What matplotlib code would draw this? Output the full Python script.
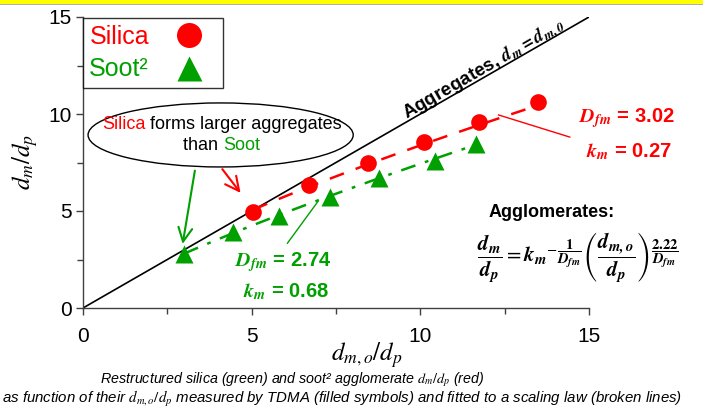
import numpy as np
import matplotlib
matplotlib.use("Agg")
import matplotlib.pyplot as plt
from matplotlib.lines import Line2D
from matplotlib.patches import Ellipse, Rectangle
from matplotlib.offsetbox import TextArea, HPacker, VPacker, AnnotationBbox

plt.rcParams["font.family"] = ["Liberation Sans", "DejaVu Sans"]
plt.rcParams["mathtext.fontset"] = "stix"

# measured points (TDMA)
silica_x = [5.05, 6.70, 8.44, 10.12, 11.75, 13.48]
silica_y = [4.96, 6.34, 7.46, 8.57, 9.59, 10.62]
soot_x = [3.0, 4.46, 5.80, 7.32, 8.78, 10.42, 11.64]
soot_y = [2.8, 3.93, 4.74, 5.74, 6.70, 7.59, 8.45]

# scaling law parameters shown on the chart
silica_Dfm, silica_km = 3.02, 0.27
soot_Dfm, soot_km = 2.74, 0.68
EXP_NUM = 2.22

RED = "#ff0000"
GREEN = "#00a000"


def scaling_law(x, km, Dfm):
    return km ** (-1.0 / Dfm) * x ** (EXP_NUM / Dfm)


fig = plt.figure(figsize=(7.03, 4.09), dpi=100)
ax = fig.add_axes([83 / 703, 1 - 308 / 409, 506 / 703, 291 / 409])

# yellow band on top
fig.patches.append(Rectangle((0, 1 - 3.5 / 409), 1, 3.5 / 409, transform=fig.transFigure,
                             facecolor="#ffff00", edgecolor="none"))
fig.patches.append(Rectangle((0, 1 - 5 / 409), 1, 1.5 / 409, transform=fig.transFigure,
                             facecolor="#b0b0b0", edgecolor="none"))

# aggregates line dm = dm,0
ax.plot([0, 15], [0, 15], color="black", lw=1.2, zorder=2)

xs = np.linspace(silica_x[0], silica_x[-1], 100)
ax.plot(xs, scaling_law(xs, silica_km, silica_Dfm), color=RED, lw=1.8,
        dashes=(6, 5), zorder=3)
xg = np.linspace(soot_x[0], soot_x[-1], 100)
ax.plot(xg, scaling_law(xg, soot_km, soot_Dfm), color=GREEN, lw=1.8,
        dashes=(6, 4, 1.5, 4), zorder=3)

ax.plot(silica_x, silica_y, "o", color=RED, ms=12, mec="none", zorder=4)
ax.plot(soot_x, soot_y, "^", color=GREEN, ms=13, mec="none", zorder=4)

ax.set_xlim(0, 15)
ax.set_ylim(0, 15)
ax.set_xticks([0, 5, 10, 15])
ax.set_yticks([0, 5, 10, 15])
ax.set_xticks([2.5, 7.5, 12.5], minor=True)
ax.set_yticks([2.5, 7.5, 12.5], minor=True)
ax.spines["top"].set_visible(False)
ax.spines["right"].set_visible(False)
for s in ["left", "bottom"]:
    ax.spines[s].set_linewidth(1.0)
    ax.spines[s].set_color("#404040")
ax.tick_params(which="major", length=5, width=1, color="#404040", labelsize=15)
ax.tick_params(which="minor", length=4, width=1, color="#404040")
ax.tick_params(axis="x", which="major", pad=9)
ax.tick_params(axis="y", which="major", pad=3)

ax.set_ylabel(r"$d_m/d_p$", fontsize=18, labelpad=6)
fig.text(367 / 703, 1 - 355 / 409, r"$d_{m,o}/d_p$", fontsize=18, ha="center", va="center")

# legend
handles = [Line2D([], [], ls="none", marker="o", color=RED, ms=18, mec="none"),
           Line2D([], [], ls="none", marker="^", color=GREEN, ms=18, mec="none")]
leg = ax.legend(handles, ["Silica", "Soot²"], loc="upper left", bbox_to_anchor=(0.0, 0.995),
                markerfirst=False, fontsize=18, frameon=True, fancybox=False,
                borderaxespad=0.0, handletextpad=0.5, handlelength=2.2,
                labelspacing=0.35, borderpad=0.25)
leg.get_frame().set_edgecolor("black")
leg.get_frame().set_linewidth(1.0)
leg.get_texts()[0].set_color(RED)
leg.get_texts()[1].set_color(GREEN)

# aggregates label along line
ax.text(11.9, 12.3, r"Aggregates, $\mathbfit{d_m = d_{m,0}}$", rotation=30,
        rotation_mode="anchor", ha="center", va="center", fontsize=13.5,
        fontweight="bold")

# ellipse note
ax.add_patch(Ellipse((4.08, 8.92), 7.86, 3.3, facecolor="white", edgecolor="black",
                     lw=1.0, clip_on=False, zorder=5))
tp = dict(fontsize=13)
line1 = HPacker(children=[TextArea("Silica", textprops=dict(color=RED, **tp)),
                          TextArea(" forms larger aggregates", textprops=dict(color="black", **tp))],
                pad=0, sep=0)
line2 = HPacker(children=[TextArea("than ", textprops=dict(color="black", **tp)),
                          TextArea("Soot", textprops=dict(color=GREEN, **tp))],
                pad=0, sep=0)
box = VPacker(children=[line1, line2], align="center", pad=0, sep=3)
ab = AnnotationBbox(box, (4.12, 8.92), frameon=False, zorder=6, box_alignment=(0.5, 0.5))
ax.add_artist(ab)

ax.annotate("", xy=(4.72, 5.82), xytext=(4.08, 7.27),
            arrowprops=dict(arrowstyle="->", color=RED, lw=1.5, mutation_scale=25))
ax.annotate("", xy=(2.94, 3.16), xytext=(3.33, 7.22),
            arrowprops=dict(arrowstyle="->", color=GREEN, lw=1.5, mutation_scale=25))

# fit parameter labels
ax.plot([12.32, 14.43], [9.95, 8.81], color=RED, lw=1.0, clip_on=False)
ax.plot([6.06, 6.96], [3.34, 5.48], color=GREEN, lw=1.0, clip_on=False)
pk = dict(fontsize=14.5, fontweight="bold", ha="right", va="center")
ax.text(17.53, 9.79, r"$\mathbfit{D_{fm}}$ = %.2f" % silica_Dfm, color=RED, **pk)
ax.text(17.47, 8.04, r"$\mathbfit{k_m}$ = %.2f" % silica_km, color=RED, **pk)
ax.text(7.35, 2.37, r"$\mathbfit{D_{fm}}$ = %.2f" % soot_Dfm, color=GREEN, **pk)
ax.text(7.29, 0.82, r"$\mathbfit{k_m}$ = %.2f" % soot_km, color=GREEN, **pk)

ax.text(13.9, 4.9, "Agglomerates:", fontsize=13, fontweight="bold", ha="center", va="center")
ax.text(14.67, 2.58,
        r"$\dfrac{\mathbfit{d_m}}{\mathbfit{d_p}} = \mathbfit{k_m}^{-\dfrac{\mathbf{1}}{\mathbfit{D_{fm}}}}"
        r"\left(\dfrac{\mathbfit{d_{m,o}}}{\mathbfit{d_p}}\right)^{\dfrac{\mathbf{2.22}}{\mathbfit{D_{fm}}}}$",
        fontsize=15, ha="center", va="center")

# caption
cap = dict(style="italic", va="center")
fig.text(292 / 703, 1 - 380 / 409,
         r"Restructured silica (green) and soot² agglomerate $d_m/d_p$ (red)",
         fontsize=10.3, ha="center", **cap)
fig.text(2 / 703, 1 - 399 / 409,
         r"as function of their $d_{m,o}/d_p$ measured by TDMA (filled symbols) and fitted to a scaling law (broken lines)",
         fontsize=10.8, ha="left", **cap)

fig.savefig("out.png", dpi=100)
